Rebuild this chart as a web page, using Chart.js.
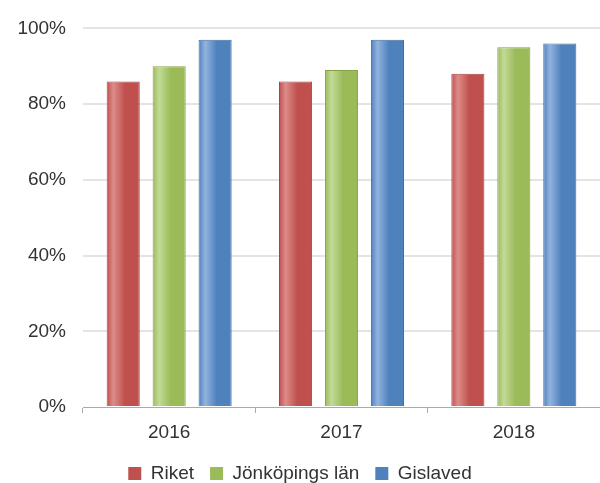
<!DOCTYPE html>
<html>
<head>
<meta charset="utf-8">
<script src="https://cdn.jsdelivr.net/npm/chart.js@4/dist/chart.umd.min.js"></script>
<style>
  html, body { margin: 0; padding: 0; background: #fff; }
  #wrap { width: 600px; height: 483px; }
</style>
</head>
<body>
<div id="wrap"><canvas id="chart"></canvas></div>
<script>
// Data
const years = ['2016', '2017', '2018'];
const seriesNames = ['Riket', 'Jönköpings län', 'Gislaved'];
const riket = [86, 86, 88];
const jonkoping = [90, 89, 95];
const gislaved = [97, 97, 96];
const yTicks = [0, 20, 40, 60, 80, 100];

// Colours: light left edge, dark right edge, border
const palette = [
    { light: '#dc8c8a', dark: '#c0504d', border: '#a84442' },
    { light: '#c2da97', dark: '#9bbb59', border: '#86a34a' },
    { light: '#93b3de', dark: '#4f81bd', border: '#41709f' }
];

const catPct = 0.8;
const barPct = 0.72;
const fontFamily = 'Liberation Sans, Arial, sans-serif';
const textColor = '#333333';

// horizontal gradient for each bar, based on where the x scale puts it
function barGradient(c) {
    const p = palette[c.datasetIndex];
    const xScale = c.chart.scales.x;
    if (!xScale || c.dataIndex === undefined) return p.dark;
    const catW = xScale.width / years.length;
    const slot = catW * catPct / seriesNames.length;
    const center = xScale.getPixelForValue(c.dataIndex) + (c.datasetIndex - 1) * slot;
    const half = slot * barPct / 2;
    const g = c.chart.ctx.createLinearGradient(center - half, 0, center + half, 0);
    g.addColorStop(0, p.dark);
    g.addColorStop(0.2, p.light);
    g.addColorStop(0.55, p.dark);
    g.addColorStop(1, p.dark);
    return g;
}

const values = [riket, jonkoping, gislaved];
const datasets = seriesNames.map((name, i) => ({
    label: name,
    data: values[i],
    backgroundColor: barGradient,
    borderColor: palette[i].border,
    borderWidth: 1,
    borderSkipped: 'bottom',
    categoryPercentage: catPct,
    barPercentage: barPct
}));

const ctx = document.getElementById('chart').getContext('2d');
new Chart(ctx, {
    type: 'bar',
    data: { labels: years, datasets: datasets },
    options: {
        responsive: true,
        maintainAspectRatio: false,
        animation: false,
        layout: { padding: { top: 18, right: 0, left: 0, bottom: -10 } },
        plugins: {
            tooltip: { enabled: false },
            legend: {
                position: 'bottom',
                labels: {
                    boxWidth: 13,
                    boxHeight: 13,
                    padding: 16,
                    color: textColor,
                    font: { family: fontFamily, size: 19 },
                    generateLabels: (chart) => seriesNames.map((n, i) => ({
                        text: n,
                        fillStyle: palette[i].dark,
                        strokeStyle: palette[i].dark,
                        lineWidth: 0,
                        datasetIndex: i,
                        fontColor: textColor
                    }))
                }
            }
        },
        scales: {
            x: {
                afterFit: (s) => { s.height = 41; },
                grid: { drawOnChartArea: false, drawTicks: true, tickLength: 6, color: '#aaaaaa', offset: true },
                border: { color: '#aaaaaa' },
                ticks: {
                    color: textColor,
                    padding: 8,
                    font: { family: fontFamily, size: 19 }
                }
            },
            y: {
                min: 0,
                max: 100,
                afterFit: (s) => { s.width = 83; },
                afterBuildTicks: (s) => { s.ticks = yTicks.map(v => ({ value: v })); },
                grid: {
                    drawTicks: false,
                    color: (c) => c.tick && c.tick.value === 0 ? 'rgba(0,0,0,0)' : '#e4e4e4',
                    lineWidth: 2
                },
                border: { display: false },
                ticks: {
                    color: textColor,
                    padding: 17,
                    font: { family: fontFamily, size: 19 },
                    callback: (v) => v + '%'
                }
            }
        }
    }
});
</script>
</body>
</html>
